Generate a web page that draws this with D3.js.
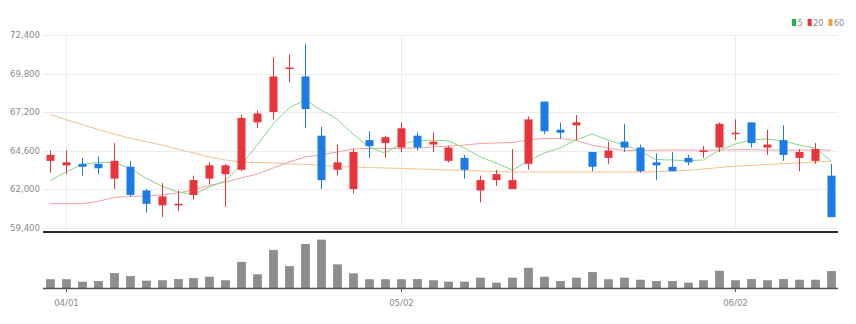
<!DOCTYPE html>
<html><head><meta charset="utf-8">
<script src="https://cdn.jsdelivr.net/npm/d3@7"></script>
<style>
html,body{margin:0;padding:0;background:#fff;}
svg{display:block;}
text{font-family:"Liberation Sans Narrow","DejaVu Sans Condensed","Arial Narrow",sans-serif;}
</style></head>
<body><svg id="c" width="856" height="324"></svg>
<script>
const dates = ["03/29","04/01","04/02","04/03","04/04","04/05","04/08","04/09","04/11","04/12",
"04/15","04/16","04/17","04/18","04/19","04/22","04/23","04/24","04/25","04/26",
"04/29","04/30","05/02","05/03","05/06","05/07","05/08","05/09","05/10","05/13",
"05/14","05/16","05/17","05/20","05/21","05/22","05/23","05/24","05/27","05/28",
"05/29","05/30","05/31","06/02","06/03","06/04","06/05","06/07","06/10","06/11"];
const open  = [63900,63600,63700,63700,62700,63500,61900,60900,60900,61600,62700,63000,63300,66500,67200,70100,69600,65600,63300,62000,65300,65100,64800,65600,65000,63900,64100,61900,62600,62000,63700,67900,66000,66300,64500,64100,65200,64800,63800,63500,64100,64500,64800,65700,66500,64800,65300,64100,63900,62900];
const high  = [64600,64600,64100,64200,65100,63900,62000,62400,61900,62900,63800,63700,67000,67300,70900,71100,71800,66200,65000,64700,65900,65600,66500,65800,65800,64900,64300,62900,63300,64700,66900,67900,66500,67000,64500,65200,66400,65000,64400,64500,64300,64900,66500,66700,66500,66000,66300,64700,65100,63700];
const low   = [63100,63000,62900,63000,62000,61500,60400,60100,60500,61300,62300,60800,63200,66100,66700,69200,66100,62000,62900,61700,64100,64100,64500,64600,64500,63800,62700,61100,62200,62000,63300,65700,65400,65300,63200,63700,64500,63100,62600,63200,63600,64100,64500,65300,64800,64300,63900,63200,63700,60100];
const close = [64300,63800,63500,63400,63900,61600,61000,61500,61000,62600,63600,63600,66800,67100,69600,70200,67400,62600,63800,64500,64900,65500,66100,64800,65200,64800,63300,62600,63000,62600,66700,65900,65800,66500,63500,64600,64800,63200,63600,63200,63800,64600,66400,65800,65100,65000,64300,64500,64700,60100];
const volume = [208,208,150,165,365,290,175,183,215,240,275,183,650,333,950,540,1100,1208,583,358,208,208,208,215,183,150,150,250,125,250,500,275,165,250,390,208,250,200,165,165,125,183,425,183,215,183,215,200,200,415];
const ma5  = [62560,63150,63660,63790,63800,63420,62740,62200,61800,61640,62140,62540,63620,64970,66390,67470,68010,67340,66730,65720,64840,64430,65040,65240,65310,65240,64770,64160,63760,63280,63890,64430,64770,65310,65720,65310,64970,64570,63990,63960,63910,63960,64630,65040,65310,65380,65240,64970,64770,63890];
const ma20 = [61010,61010,61010,61160,61430,61490,61530,61600,61730,61930,62240,62470,62740,63010,63420,63820,64160,64300,64500,64700,64740,64740,64740,64770,64840,64900,64970,65070,65110,65140,65310,65410,65410,65280,64970,64770,64600,64600,64620,64630,64630,64630,64630,64650,64650,64630,64630,64630,64630,64630];
const ma60 = [67030,66690,66360,66020,65720,65440,65210,64970,64700,64430,64160,63960,63820,63790,63760,63690,63660,63590,63520,63490,63450,63420,63390,63350,63320,63280,63250,63220,63180,63150,63150,63150,63150,63150,63150,63150,63150,63150,63170,63220,63250,63350,63450,63550,63590,63660,63720,63760,63820,63860];
const yTicks = [59400,62000,64600,67200,69800,72400];
const xTickLabels = ["04/01","05/02","06/02"];
const legendItems = ["5","20","60"];

const svg = d3.select("#c");
const L = 43, R = 838;
const x = d3.scalePoint().domain(dates).range([50, 831]);
const y = d3.scaleLinear().domain([59400, 72400]).range([227.5, 35]);
const yv = d3.scaleLinear().domain([0, 1208]).range([288, 240]);
const UP = "#e8343b", DOWN = "#1d7be8";
const maColors = ["#86d686", "#f3a0a6", "#f7c18c"];
const legendColors = ["#22b14c", "#e8343b", "#f5a03c"];
const bw = 8;

// gridlines
svg.append("g").selectAll("line").data(yTicks).join("line")
  .attr("x1", L).attr("x2", R).attr("y1", d => Math.round(y(d)) + 0.5).attr("y2", d => Math.round(y(d)) + 0.5)
  .attr("stroke", "#ececec").attr("stroke-width", 1);
svg.append("g").selectAll("line").data(xTickLabels).join("line")
  .attr("x1", d => Math.round(x(d)) + 0.5).attr("x2", d => Math.round(x(d)) + 0.5)
  .attr("y1", 35).attr("y2", 228)
  .attr("stroke", "#ececec").attr("stroke-width", 1);

// y labels
svg.append("g").selectAll("text").data(yTicks).join("text")
  .attr("x", 40).attr("y", d => y(d)).attr("dy", "0.35em")
  .attr("text-anchor", "end").attr("font-size", 9.5).attr("fill", "#8a8a8a")
  .text(d => d3.format(",")(d));

// MA lines
[ma60, ma20, ma5].forEach((arr, k) => {
  const col = [maColors[2], maColors[1], maColors[0]][k];
  svg.append("path").datum(arr)
    .attr("fill", "none").attr("stroke", col).attr("stroke-width", 1)
    .attr("d", d3.line().x((d, i) => x(dates[i])).y(d => y(d)));
});

// candles
const cg = svg.append("g");
dates.forEach((d, i) => {
  const col = close[i] >= open[i] ? UP : DOWN;
  const cx = Math.round(x(d));
  cg.append("line").attr("x1", cx + 0.5).attr("x2", cx + 0.5)
    .attr("y1", y(high[i])).attr("y2", y(low[i])).attr("stroke", col).attr("stroke-width", 1);
  const top = y(Math.max(open[i], close[i])), bot = y(Math.min(open[i], close[i]));
  cg.append("rect").attr("x", cx - bw / 2 + 0.5).attr("width", bw)
    .attr("y", top).attr("height", Math.max(1.5, bot - top)).attr("fill", col);
});

// bottom axis line of price panel
svg.append("line").attr("x1", L).attr("x2", R).attr("y1", 232).attr("y2", 232)
  .attr("stroke", "#2a2a2a").attr("stroke-width", 2);

// volume bars
svg.append("g").selectAll("rect").data(volume).join("rect")
  .attr("x", (d, i) => Math.round(x(dates[i])) - bw / 2 + 0.5).attr("width", bw)
  .attr("y", d => yv(d)).attr("height", d => 288 - yv(d))
  .attr("fill", "#8e8e8e").attr("stroke", "#7a7a7a").attr("stroke-width", 0.6);

svg.append("line").attr("x1", L).attr("x2", R).attr("y1", 288.5).attr("y2", 288.5)
  .attr("stroke", "#555").attr("stroke-width", 1.6);

// x ticks & labels
const xg = svg.append("g");
xTickLabels.forEach(t => {
  const cx = Math.round(x(t)) + 0.5;
  xg.append("line").attr("x1", cx).attr("x2", cx).attr("y1", 288).attr("y2", 292)
    .attr("stroke", "#555").attr("stroke-width", 1);
  xg.append("text").attr("x", cx).attr("y", 306).attr("text-anchor", "middle")
    .attr("font-size", 9.5).attr("fill", "#8a8a8a").text(t);
});

// legend
const lg = svg.append("g");
let lx = 792;
legendItems.forEach((t, k) => {
  lg.append("rect").attr("x", lx).attr("y", 19).attr("width", 4).attr("height", 7).attr("fill", legendColors[k]);
  const tx = lg.append("text").attr("x", lx + 5.5).attr("y", 25.5).attr("font-size", 9).attr("fill", "#8a8a8a").text(t);
  lx += 5.5 + tx.node().getComputedTextLength() + 5;
});
</script></body></html>
